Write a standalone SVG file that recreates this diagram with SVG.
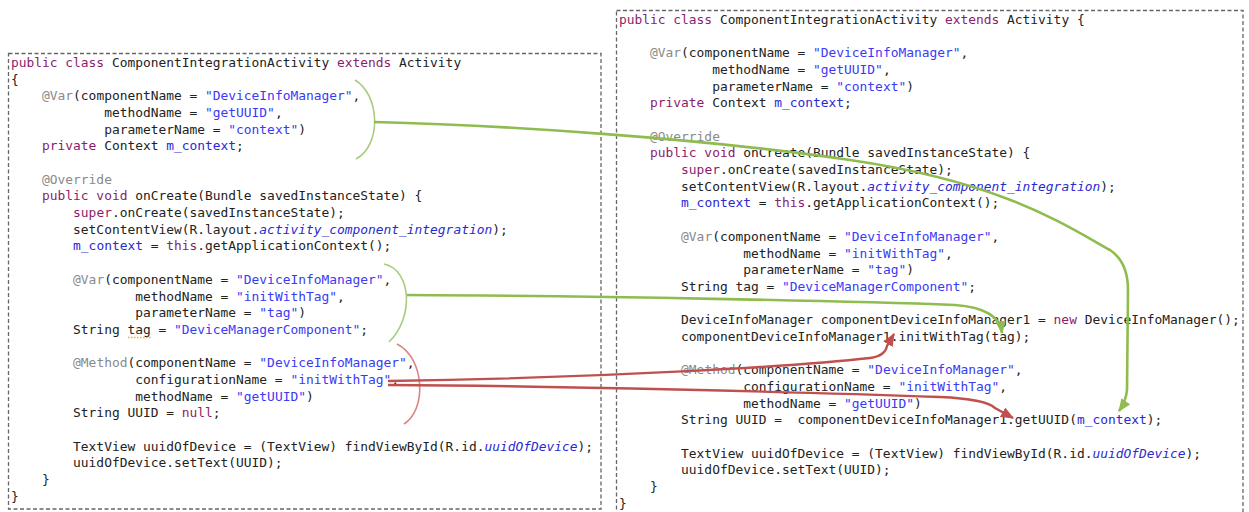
<svg xmlns="http://www.w3.org/2000/svg" width="1249" height="512" viewBox="0 0 1249 512">
<style>
.t{font-family:"DejaVu Sans Mono","Liberation Mono",monospace;font-size:12.9px;fill:#222;white-space:pre}
.k{fill:#8b1c6b}
.s{fill:#3a3af5}
.a{fill:#8a8a8a}
.f{fill:#2a2ad0}
.i{fill:#2a2ad0;font-style:italic}
.box{fill:none;stroke:#666;stroke-width:1.3;stroke-dasharray:4 2.5}
.gb{fill:none;stroke:#a8cc82;stroke-width:1.6}
.rb{fill:none;stroke:#d98583;stroke-width:1.6}
.gl{fill:none;stroke:#8fbc4f;stroke-width:2.6}
.rl{fill:none;stroke:#c0504d;stroke-width:2.4}
</style>
<defs>
<marker id="ag" viewBox="0 0 12 10" refX="11" refY="5" markerWidth="13" markerHeight="11" markerUnits="userSpaceOnUse" orient="auto"><path d="M0,0 L12,5 L0,10 z" fill="#8fbc4f"/></marker>
<marker id="ar" viewBox="0 0 12 10" refX="11" refY="5" markerWidth="13" markerHeight="11" markerUnits="userSpaceOnUse" orient="auto"><path d="M0,0 L12,5 L0,10 z" fill="#c0504d"/></marker>
</defs>
<rect width="1249" height="512" fill="#fff"/>

<g id="left-panel" xml:space="preserve">
<rect class="box" x="8.5" y="53.5" width="592.5" height="455.5"/>
<text class="t" x="11" y="67"><tspan class="k">public class</tspan> ComponentIntegrationActivity <tspan class="k">extends</tspan> Activity</text>
<text class="t" x="11" y="83.68">{</text>
<text class="t" x="11" y="100.36">    <tspan class="a">@Var</tspan>(componentName = <tspan class="s">"DeviceInfoManager"</tspan>,</text>
<text class="t" x="11" y="117.04">            methodName = <tspan class="s">"getUUID"</tspan>,</text>
<text class="t" x="11" y="133.72">            parameterName = <tspan class="s">"context"</tspan>)</text>
<text class="t" x="11" y="150.4">    <tspan class="k">private</tspan> Context <tspan class="f">m_context</tspan>;</text>
<text class="t" x="11" y="183.76">    <tspan class="a">@Override</tspan></text>
<text class="t" x="11" y="200.44">    <tspan class="k">public void</tspan> onCreate(Bundle savedInstanceState) {</text>
<text class="t" x="11" y="217.12">        <tspan class="k">super</tspan>.onCreate(savedInstanceState);</text>
<text class="t" x="11" y="233.8">        setContentView(R.layout.<tspan class="i">activity_component_integration</tspan>);</text>
<text class="t" x="11" y="250.48">        <tspan class="f">m_context</tspan> = <tspan class="k">this</tspan>.getApplicationContext();</text>
<text class="t" x="11" y="283.84">        <tspan class="a">@Var</tspan>(componentName = <tspan class="s">"DeviceInfoManager"</tspan>,</text>
<text class="t" x="11" y="300.52">                methodName = <tspan class="s">"initWithTag"</tspan>,</text>
<text class="t" x="11" y="317.2">                parameterName = <tspan class="s">"tag"</tspan>)</text>
<text class="t" x="11" y="333.88">        String tag = <tspan class="s">"DeviceManagerComponent"</tspan>;</text>
<line x1="128" y1="337.5" x2="151" y2="337.5" stroke="#e8b030" stroke-width="1.4" stroke-dasharray="1.5 1.5"/>
<text class="t" x="11" y="367.24">        <tspan class="a">@Method</tspan>(componentName = <tspan class="s">"DeviceInfoManager"</tspan>,</text>
<text class="t" x="11" y="383.92">                configurationName = <tspan class="s">"initWithTag"</tspan>,</text>
<text class="t" x="11" y="400.6">                methodName = <tspan class="s">"getUUID"</tspan>)</text>
<text class="t" x="11" y="417.28">        String UUID = <tspan class="k">null</tspan>;</text>
<text class="t" x="11" y="450.64">        TextView uuidOfDevice = (TextView) findViewById(R.id.<tspan class="i">uuidOfDevice</tspan>);</text>
<text class="t" x="11" y="467.32">        uuidOfDevice.setText(UUID);</text>
<text class="t" x="11" y="484">    }</text>
<text class="t" x="11" y="500.68">}</text>
</g>

<g id="right-panel" xml:space="preserve">
<rect class="box" x="616.5" y="10.5" width="626.5" height="520"/>
<text class="t" x="619" y="24"><tspan class="k">public class</tspan> ComponentIntegrationActivity <tspan class="k">extends</tspan> Activity {</text>
<text class="t" x="619" y="57.36">    <tspan class="a">@Var</tspan>(componentName = <tspan class="s">"DeviceInfoManager"</tspan>,</text>
<text class="t" x="619" y="74.04">            methodName = <tspan class="s">"getUUID"</tspan>,</text>
<text class="t" x="619" y="90.72">            parameterName = <tspan class="s">"context"</tspan>)</text>
<text class="t" x="619" y="107.4">    <tspan class="k">private</tspan> Context <tspan class="f">m_context</tspan>;</text>
<text class="t" x="619" y="140.76">    <tspan class="a">@Override</tspan></text>
<text class="t" x="619" y="157.44">    <tspan class="k">public void</tspan> onCreate(Bundle savedInstanceState) {</text>
<text class="t" x="619" y="174.12">        <tspan class="k">super</tspan>.onCreate(savedInstanceState);</text>
<text class="t" x="619" y="190.8">        setContentView(R.layout.<tspan class="i">activity_component_integration</tspan>);</text>
<text class="t" x="619" y="207.48">        <tspan class="f">m_context</tspan> = <tspan class="k">this</tspan>.getApplicationContext();</text>
<text class="t" x="619" y="240.84">        <tspan class="a">@Var</tspan>(componentName = <tspan class="s">"DeviceInfoManager"</tspan>,</text>
<text class="t" x="619" y="257.52">                methodName = <tspan class="s">"initWithTag"</tspan>,</text>
<text class="t" x="619" y="274.2">                parameterName = <tspan class="s">"tag"</tspan>)</text>
<text class="t" x="619" y="290.88">        String tag = <tspan class="s">"DeviceManagerComponent"</tspan>;</text>
<text class="t" x="619" y="324.24">        DeviceInfoManager componentDeviceInfoManager1 = <tspan class="k">new</tspan> DeviceInfoManager();</text>
<text class="t" x="619" y="340.92">        componentDeviceInfoManager1.initWithTag(tag);</text>
<text class="t" x="619" y="374.28">        <tspan class="a">@Method</tspan>(componentName = <tspan class="s">"DeviceInfoManager"</tspan>,</text>
<text class="t" x="619" y="390.96">                configurationName = <tspan class="s">"initWithTag"</tspan>,</text>
<text class="t" x="619" y="407.64">                methodName = <tspan class="s">"getUUID"</tspan>)</text>
<text class="t" x="619" y="424.32">        String UUID =  componentDeviceInfoManager1.getUUID(<tspan class="f">m_context</tspan>);</text>
<text class="t" x="619" y="457.68">        TextView uuidOfDevice = (TextView) findViewById(R.id.<tspan class="i">uuidOfDevice</tspan>);</text>
<text class="t" x="619" y="474.36">        uuidOfDevice.setText(UUID);</text>
<text class="t" x="619" y="491.04">    }</text>
<text class="t" x="619" y="507.72">}</text>
</g>

<g id="connectors">
<path class="gb" d="M355,80 C380,95 382,145 356,159"/>
<path class="gb" d="M384,264 C412,270 414,318 389,342"/>
<path class="rb" d="M397,344 C425,358 427,410 404,424"/>
<path class="gl" marker-end="url(#ag)" d="M374,122 C500,125 700,138 850,160 S1060,222 1110,250 Q1128,262 1128,290 L1127,390 Q1126,401 1119,411"/>
<path class="gl" marker-end="url(#ag)" d="M407,295 C600,296 850,301 955,305 Q999,308 1002,333"/>
<path class="rl" marker-end="url(#ar)" d="M388,381 C600,378 800,366 870,358 Q885,356 887,346 L894,334"/>
<path class="rl" marker-end="url(#ar)" d="M388,385 C560,386 800,392 940,397 Q985,399 995,408 L1013,418"/>
</g>
</svg>
